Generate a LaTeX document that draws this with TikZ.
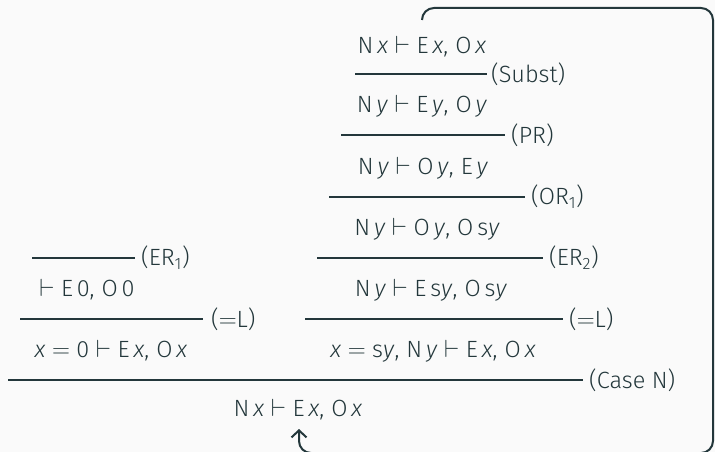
\documentclass[tikz,border=0pt]{standalone}
\usepackage{fontspec}
\setmainfont{Fira Sans Light}
\usetikzlibrary{arrows.meta}
\definecolor{mdark}{HTML}{23373B}
\definecolor{mbg}{HTML}{FAFAFA}
\newcommand{\vx}{\textit{x}}
\newcommand{\vy}{\textit{y}}
\newcommand{\tu}{\;$\vdash$\;}
\newcommand{\eqq}{\;$=$\;}
\newcommand{\cm}{,\hspace{0.3em}}
\begin{document}
\begin{tikzpicture}[x=1pt,y=-1pt,
  every node/.style={text=mdark,font=\fontsize{23.5}{28}\selectfont,inner sep=0pt},
  seq/.style={anchor=base},
  lab/.style={anchor=west},
  infrule/.style={draw=mdark,line width=1.3pt},
  conn/.style={draw=mdark,line width=2pt,rounded corners=12pt,-{Straight Barb[length=7pt,width=15pt]}}]
\fill[mbg] (0,0) rectangle (715,452);
\useasboundingbox (0,0) rectangle (715,452);
% right branch
\node[seq] (s1) at (422,54) {N\,\vx\tu E\,\vx\cm O\,\vx};
\draw[infrule] (355,74) -- (487,74);
\node[lab] (lsubst) at (491,74) {(Subst)};
\node[seq] (s2) at (422,113) {N\,\vy\tu E\,\vy\cm O\,\vy};
\draw[infrule] (341,135) -- (505,135);
\node[lab] (lpr) at (511,135) {(PR)};
\node[seq] (s3) at (423,174) {N\,\vy\tu O\,\vy\cm E\,\vy};
\draw[infrule] (329,197) -- (525,197);
\node[lab] (lor) at (531,197) {(OR\textsubscript{1})};
\node[seq] (s4) at (427,235.5) {N\,\vy\tu O\,\vy\cm O\,s\vy};
\draw[infrule] (317,258) -- (543,258);
\node[lab] (ler2) at (549,258) {(ER\textsubscript{2})};
\node[seq] (s5) at (431,296.5) {N\,\vy\tu E\,s\vy\cm O\,s\vy};
\draw[infrule] (305,319) -- (563,319);
\node[lab] (leqr) at (569,319) {($=$L)};
\node[seq] (s6) at (433,357.5) {\vx\eqq s\vy\cm N\,\vy\tu E\,\vx\cm O\,\vx};
% left branch
\draw[infrule] (32,258) -- (135,258);
\node[lab] (ler1) at (141,258) {(ER\textsubscript{1})};
\node[seq] (l1) at (87,296.5) {$\vdash$\;E\,0\cm O\,0};
\draw[infrule] (20,319) -- (203,319);
\node[lab] (leql) at (211,319) {($=$L)};
\node[seq] (l2) at (111,357.5) {\vx\eqq 0\tu E\,\vx\cm O\,\vx};
% root
\draw[infrule] (8,380) -- (583,380);
\node[lab] (lcase) at (589,380) {(Case N)};
\node[seq] (s7) at (298,416) {N\,\vx\tu E\,\vx\cm O\,\vx};
% cycle connector
\coordinate (ctop) at (422,20);
\coordinate (cbot) at (299,429);
\draw[conn] (ctop) -- (422,8) -- (713,8) -- (713,453) -- (299,453) -- (cbot);
\end{tikzpicture}
\end{document}
